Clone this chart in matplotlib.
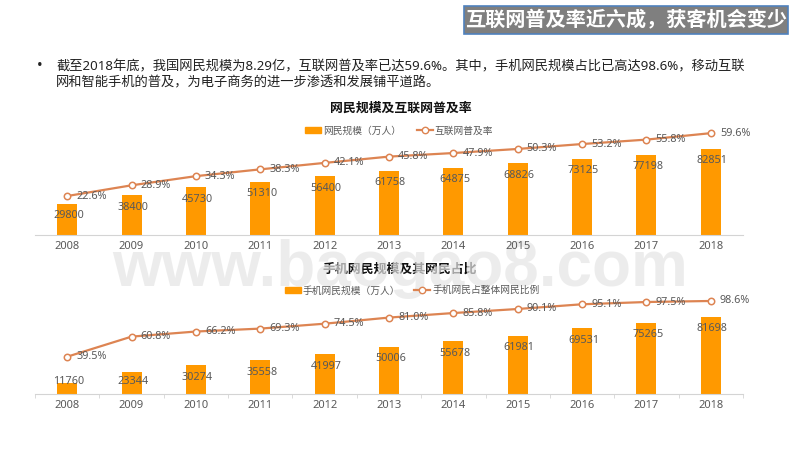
import matplotlib
matplotlib.use('Agg')
import matplotlib.pyplot as plt
from matplotlib.patches import Rectangle
from matplotlib.lines import Line2D
from matplotlib.patches import Patch

plt.rcParams['font.family'] = ['Noto Sans', 'Noto Sans CJK SC']

years = ['2008', '2009', '2010', '2011', '2012', '2013', '2014', '2015', '2016', '2017', '2018']
netizens = [29800, 38400, 45730, 51310, 56400, 61758, 64875, 68826, 73125, 77198, 82851]
penetration = [22.6, 28.9, 34.3, 38.3, 42.1, 45.8, 47.9, 50.3, 53.2, 55.8, 59.6]
mobile_users = [11760, 23344, 30274, 35558, 41997, 50006, 55678, 61981, 69531, 75265, 81698]
mobile_share = [39.5, 60.8, 66.2, 69.3, 74.5, 81.0, 85.8, 90.1, 95.1, 97.5, 98.6]

BAR = '#ff9900'
LINE = '#dd8452'
TXT = '#595959'
W, H = 800, 450

fig = plt.figure(figsize=(8, 4.5), dpi=100, facecolor='white')


def fx(x):
    return x / W


def fy(y):
    return 1 - y / H


def draw_chart(top, bottom, bars, line, bar_max, line_lim, name1, name2, legend_xy, col_gap, ticks):
    ax = fig.add_axes([fx(35), fy(bottom), fx(708), (bottom - top) / H])
    ax.patch.set_visible(False)
    xs = list(range(len(years)))
    ax.bar(xs, bars, width=0.31, color=BAR, zorder=2)
    ax.set_xlim(-0.5, 10.5)
    ax.set_ylim(0, bar_max)
    ax.set_xticks(xs)
    ax.set_xticklabels(years, fontsize=8, color=TXT)
    ax.set_yticks([])
    for s in ['top', 'left', 'right']:
        ax.spines[s].set_visible(False)
    ax.spines['bottom'].set_color('#d4d4d4')
    ax.tick_params(axis='x', which='major', length=0, pad=4)
    if ticks:
        ax.set_xticks([i - 0.5 for i in range(len(years) + 1)], minor=True)
        ax.tick_params(axis='x', which='minor', length=3, color='#d4d4d4')

    min_h = 12 / (bottom - top) * bar_max
    for x, v in zip(xs, bars):
        if v - min_h < min_h:
            ax.annotate(str(v), (x, min_h), xytext=(1, 0), textcoords='offset points', ha='center',
                        va='center', fontsize=7.8, color=TXT, zorder=5)
        else:
            ax.annotate(str(v), (x, v), xytext=(1, -8.6), textcoords='offset points', ha='center',
                        va='center', fontsize=7.8, color=TXT, zorder=5)

    ax2 = ax.twinx()
    ax2.patch.set_visible(False)
    ax2.plot(xs, line, color=LINE, lw=1.6, marker='o', ms=4.6, mfc='white', mec=LINE, mew=1.1, zorder=3)
    ax2.set_ylim(*line_lim)
    ax2.set_yticks([])
    for s in ax2.spines.values():
        s.set_visible(False)
    for x, v in zip(xs, line):
        ax2.annotate(f'{v}%', (x, v), xytext=(6.5, 0), textcoords='offset points', ha='left',
                     va='center', fontsize=7.8, color=TXT, zorder=5)

    handles = [Patch(color=BAR, label=name1),
               Line2D([], [], color=LINE, lw=1.6, marker='o', ms=4.6, mfc='white', mec=LINE, label=name2)]
    fig.legend(handles=handles, loc='center left', bbox_to_anchor=(fx(legend_xy[0]), fy(legend_xy[1])),
               ncol=2, frameon=False, fontsize=7.0, labelcolor=TXT, borderpad=0, borderaxespad=0,
               handlelength=1.65, handleheight=0.6, handletextpad=0.2, columnspacing=col_gap)


# banner
fig.add_artist(Rectangle((fx(464), fy(34)), fx(324), 28 / H, transform=fig.transFigure,
                         facecolor='#7f7f7f', edgecolor='#4f81bd', lw=1.2))
fig.text(fx(626), fy(20), '互联网普及率近六成，获客机会变少', color='white', fontsize=14.5,
         fontweight='bold', ha='center', va='center')

# body text
fig.text(fx(37), fy(67), '•', fontsize=11, color='#222222', ha='left', va='center')
fig.text(fx(56), fy(67), '截至2018年底，我国网民规模为8.29亿，互联网普及率已达59.6%。其中，手机网民规模占比已高达98.6%，移动互联',
         fontsize=9.55, color='#222222', ha='left', va='center')
fig.text(fx(56), fy(83), '网和智能手机的普及，为电子商务的进一步渗透和发展铺平道路。',
         fontsize=9.55, color='#222222', ha='left', va='center')

# chart titles
fig.text(fx(401), fy(108), '网民规模及互联网普及率', fontsize=9.3, fontweight='bold', color='#111111',
         ha='center', va='center')
fig.text(fx(400), fy(269), '手机网民规模及其网民占比', fontsize=9.3, fontweight='bold', color='#111111',
         ha='center', va='center', zorder=-2)

# watermark sits over the second title but under the charts
fig.text(fx(400), fy(286), 'www.baogao8.com', fontsize=46, fontweight='bold', family='Liberation Sans',
         color='#e5e5e5', alpha=0.7, ha='center', va='baseline', zorder=-1)

draw_chart(125, 235, netizens, penetration, 105769, (-0.34, 64.4),
           '网民规模（万人）', '互联网普及率', (305, 131), 1.6, False)
draw_chart(284, 394, mobile_users, mobile_share, 116649, (-0.05, 116.6),
           '手机网民规模（万人）', '手机网民占整体网民比例', (285, 290.5), 1.4, True)

fig.savefig('out.png', dpi=100)
